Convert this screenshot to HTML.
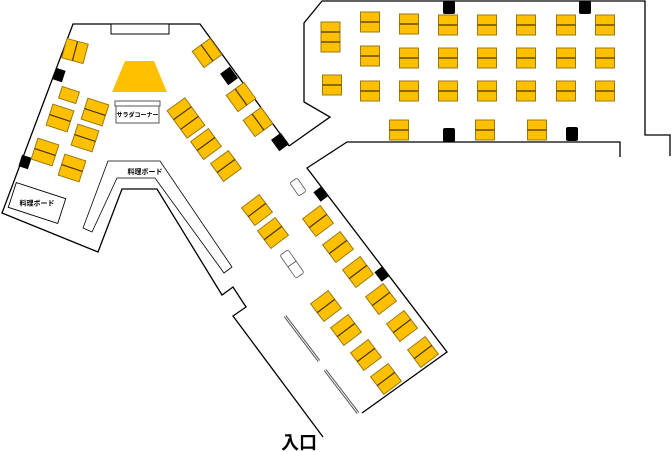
<!DOCTYPE html>
<html><head><meta charset="utf-8"><style>
html,body{margin:0;padding:0;background:#fff;}
svg{display:block;}
.t{fill:#FFC000;stroke:#9a7a10;stroke-width:1}
.d{stroke:#4a3500;stroke-width:1.2}
.w{fill:none;stroke:#000;stroke-width:1.3}
.k{fill:#000}
text{font-family:"Liberation Sans","Noto Sans CJK JP",sans-serif;}
</style></head><body>
<svg width="671" height="452" viewBox="0 0 671 452" xmlns="http://www.w3.org/2000/svg">
<defs>
<g id="th"><rect class="t" x="-11" y="-11" width="22" height="22"/><line class="d" x1="-11" y1="0" x2="11" y2="0"/></g>
<g id="tv"><rect class="t" x="-11" y="-10" width="22" height="20"/><line class="d" x1="0" y1="-10" x2="0" y2="10"/></g>
<g id="g"><rect class="t" x="-9.5" y="-10" width="19" height="20"/><line class="d" x1="-9.5" y1="0" x2="9.5" y2="0"/></g>
</defs>
<polyline class="w" points="289,146 200,24 73,24 2,213 98,252 122,189 157,189 222,295 233,287 246,307 233,316 323,437"/>
<polyline class="w" points="289,146 330,117 304,102 304,23 322,1 645,1 645,135 670,135 670,156"/>
<polyline class="w" points="620,157 620,142 347,142 307,168 447,352 362,413"/>
<rect x="111" y="24" width="58" height="10" fill="#fff" stroke="#000" stroke-width="1"/>
<polygon points="112,92 125,61 154,61 167,92" fill="#FFC000"/>
<rect x="115" y="101" width="45" height="5" fill="#fff" stroke="#555" stroke-width="1"/>
<rect x="116" y="106" width="43" height="17" fill="#fff" stroke="#555" stroke-width="1"/>
<text x="137.5" y="117" font-size="6" font-weight="bold" text-anchor="middle">サラダコーナー</text>
<polygon points="108,161 160,161 232,267 224,273 155,178 117,178 92,232 83,228" fill="#fff" stroke="#000" stroke-width="0.8"/>
<text x="145" y="174" font-size="7" font-weight="bold" text-anchor="middle">料理ボード</text>
<g transform="translate(37,203) rotate(18)"><rect x="-26" y="-13" width="52" height="26" fill="#fff" stroke="#000" stroke-width="0.9"/><text x="0" y="2.5" font-size="7" font-weight="bold" text-anchor="middle" transform="rotate(-18)">料理ボード</text></g>
<g transform="translate(59,75) rotate(18)"><rect class="k" x="-5" y="-6" width="10" height="12"/></g>
<g transform="translate(25,162) rotate(18)"><rect class="k" x="-5" y="-6" width="10" height="12"/></g>
<g transform="translate(229,76) rotate(-36)"><rect class="k" x="-6" y="-7" width="12" height="14"/></g>
<g transform="translate(280,142) rotate(-36)"><rect class="k" x="-6" y="-7" width="12" height="14"/></g>
<g transform="translate(321,194) rotate(-37)"><rect class="k" x="-5" y="-6" width="10" height="12"/></g>
<g transform="translate(382,274) rotate(-37)"><rect class="k" x="-5" y="-6" width="10" height="12"/></g>
<rect class="k" x="443" y="1" width="12" height="13" rx="2"/>
<rect class="k" x="579" y="1" width="12" height="13" rx="2"/>
<rect class="k" x="443" y="128" width="12" height="14" rx="2"/>
<rect class="k" x="566" y="127" width="12" height="14" rx="2"/>
<g transform="translate(75,51) rotate(15)"><use href="#tv"/></g>
<g transform="translate(69,95) rotate(18)"><rect class="t" x="-9" y="-6" width="18" height="12"/></g>
<g transform="translate(60,118) rotate(18)"><use href="#th"/></g>
<g transform="translate(95,112) rotate(18)"><use href="#th"/></g>
<g transform="translate(85,138) rotate(18)"><use href="#th"/></g>
<g transform="translate(45,152) rotate(18)"><use href="#th"/></g>
<g transform="translate(72,168) rotate(18)"><use href="#th"/></g>
<g transform="translate(207,53) rotate(-36)"><use href="#tv"/></g>
<g transform="translate(241,97) rotate(-36)"><use href="#tv"/></g>
<g transform="translate(258,122) rotate(-36)"><use href="#tv"/></g>
<g transform="translate(186,118) rotate(-36)"><rect class="t" x="-11" y="-17" width="22" height="34"/><line class="d" x1="-11" y1="-6" x2="11" y2="-6"/><line class="d" x1="-11" y1="6" x2="11" y2="6"/></g>
<g transform="translate(206,144) rotate(-36)"><use href="#th"/></g>
<g transform="translate(226,166) rotate(-36)"><use href="#th"/></g>
<g transform="translate(257,210) rotate(-37)"><use href="#th"/></g>
<g transform="translate(273,233) rotate(-37)"><use href="#th"/></g>
<g transform="translate(318,221) rotate(-37)"><use href="#th"/></g>
<g transform="translate(338,247) rotate(-37)"><use href="#th"/></g>
<g transform="translate(358,272) rotate(-37)"><use href="#th"/></g>
<g transform="translate(381,299) rotate(-37)"><use href="#th"/></g>
<g transform="translate(402,326) rotate(-37)"><use href="#th"/></g>
<g transform="translate(423,352) rotate(-37)"><use href="#th"/></g>
<g transform="translate(326,306) rotate(-37)"><use href="#th"/></g>
<g transform="translate(346,330) rotate(-37)"><use href="#th"/></g>
<g transform="translate(366,355) rotate(-37)"><use href="#th"/></g>
<g transform="translate(386,379) rotate(-37)"><use href="#th"/></g>
<g transform="translate(298,187) rotate(-35)"><rect x="-4.5" y="-8" width="9" height="16" rx="2" fill="#fff" stroke="#555" stroke-width="0.8"/></g>
<g transform="translate(292,264) rotate(-35)"><rect x="-5" y="-14" width="10" height="28" rx="2" fill="#fff" stroke="#555" stroke-width="0.8"/><line x1="-5" y1="0" x2="5" y2="0" stroke="#555" stroke-width="0.8"/></g>
<line x1="285" y1="316" x2="319" y2="361" stroke="#555" stroke-width="3"/>
<line x1="285" y1="316" x2="319" y2="361" stroke="#fff" stroke-width="1"/>
<line x1="325" y1="370" x2="358" y2="413" stroke="#555" stroke-width="3"/>
<line x1="325" y1="370" x2="358" y2="413" stroke="#fff" stroke-width="1"/>
<rect class="t" x="321" y="22" width="19" height="30"/><line class="d" x1="321" y1="32" x2="340" y2="32"/><line class="d" x1="321" y1="42" x2="340" y2="42"/>
<use href="#g" x="332" y="85"/>
<use href="#g" x="370" y="22"/><use href="#g" x="409" y="24"/><use href="#g" x="448" y="25"/><use href="#g" x="487" y="25"/><use href="#g" x="526" y="25"/><use href="#g" x="566" y="25"/><use href="#g" x="605" y="25"/>
<use href="#g" x="370" y="56"/><use href="#g" x="409" y="58"/><use href="#g" x="448" y="58"/><use href="#g" x="487" y="58"/><use href="#g" x="526" y="58"/><use href="#g" x="566" y="58"/><use href="#g" x="605" y="58"/>
<use href="#g" x="370" y="91"/><use href="#g" x="409" y="91"/><use href="#g" x="448" y="91"/><use href="#g" x="487" y="91"/><use href="#g" x="526" y="91"/><use href="#g" x="566" y="91"/><use href="#g" x="605" y="91"/>
<use href="#g" x="399" y="130"/><use href="#g" x="485" y="130"/><use href="#g" x="537" y="130"/>
<text x="281" y="449" font-size="18" font-weight="bold">入口</text>
</svg>
</body></html>
